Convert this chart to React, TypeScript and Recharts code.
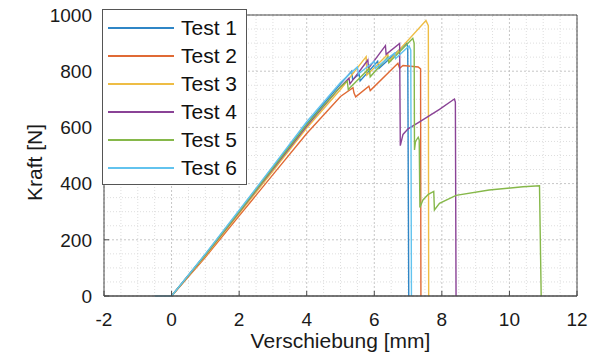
import React from "react";
import {
  LineChart,
  Line,
  XAxis,
  YAxis,
  Legend,
  ReferenceLine,
} from "recharts";

type Pt = [number, number];

// Kraft-Weg Kurven
const test1: Pt[] = [
  [0, 0], [1, 148], [2, 302], [3, 458], [4, 612], [5, 755], [5.33, 800], [5.36, 770],
  [5.55, 790], [5.58, 765], [6.1, 835], [6.14, 810], [6.96, 900], [6.99, 885], [7.02, 0],
];
const test2: Pt[] = [
  [0, 0], [1, 138], [2, 285], [3, 432], [4, 578], [5, 710], [5.37, 741], [5.4, 722],
  [5.45, 709], [5.84, 747], [5.88, 731], [6.7, 828], [6.75, 810], [6.85, 820],
  [7.3, 815], [7.37, 808], [7.38, 0],
];
const test3: Pt[] = [
  [0, 0], [1, 142], [2, 293], [3, 445], [4, 598], [5, 735], [5.76, 852], [5.78, 786],
  [6.4, 860], [6.43, 835], [7.53, 980], [7.6, 962], [7.61, 0],
];
const test4: Pt[] = [
  [0, 0], [1, 146], [2, 298], [3, 452], [4, 605], [5, 745], [5.25, 775], [5.28, 755],
  [5.81, 840], [5.83, 810], [6.33, 891], [6.35, 860], [6.75, 899], [6.77, 535],
  [6.85, 575], [7.0, 595], [7.34, 620], [7.93, 664], [8.37, 701], [8.4, 690], [8.42, 0],
];
const test5: Pt[] = [
  [0, 0], [1, 147], [2, 300], [3, 455], [4, 610], [5, 745], [5.2, 765], [5.23, 735],
  [5.85, 810], [5.88, 780], [6.4, 850], [6.43, 830], [7.14, 917], [7.18, 900],
  [7.19, 520], [7.22, 550], [7.3, 565], [7.33, 555], [7.35, 315], [7.44, 342],
  [7.6, 362], [7.76, 372], [7.78, 306], [7.93, 330], [8.42, 358], [9.4, 377],
  [10.4, 389], [10.89, 392], [10.94, 0],
];
const test6: Pt[] = [
  [-0.5, 0], [0, 0], [1, 150], [2, 305], [3, 462], [4, 620], [5, 760], [5.5, 815],
  [5.53, 790], [6.0, 835], [6.03, 810], [6.6, 865], [6.63, 845], [7.03, 890],
  [7.08, 875], [7.1, 0],
];

const seriesNames = ["Test 1", "Test 2", "Test 3", "Test 4", "Test 5", "Test 6"];
const seriesData = [test1, test2, test3, test4, test5, test6];
const COLORS = ["#2f86c6", "#e06a35", "#eebd45", "#8a4396", "#86b84a", "#62c3ee"];

const xTicks = [-2, 0, 2, 4, 6, 8, 10, 12];
const yTicks = [0, 200, 400, 600, 800, 1000];
// Hilfsgitter alle 0.5 mm / 50 N
const xMinor = Array.from({ length: 29 }, (_, i) => -2 + i * 0.5);
const yMinor = Array.from({ length: 21 }, (_, i) => i * 50);

const FONT = '"Liberation Sans", Arial, sans-serif';
const AXIS = "#4a4a4a";

const LegendBox = ({ payload }: any) => (
  <div
    style={{
      background: "#fff",
      border: "1px solid #555",
      width: 143,
      padding: "4px 0 2px 0",
      fontFamily: FONT,
      fontSize: 21,
      color: "#111",
    }}
  >
    {(payload || []).map((item: any, i: number) => (
      <div key={i} style={{ display: "flex", alignItems: "center", height: 28 }}>
        <div
          style={{
            marginLeft: 5,
            width: 66,
            height: 2,
            background: item.color,
          }}
        />
        <span style={{ marginLeft: 7 }}>{item.value}</span>
      </div>
    ))}
  </div>
);

export default function App() {
  return (
    <div style={{ position: "fixed", left: 0, top: 0, background: "#fff" }}>
      <LineChart
        width={597}
        height={362}
        margin={{ top: 15, right: 20, left: 0, bottom: 0 }}
        style={{ fontFamily: FONT }}
      >
        <XAxis
          xAxisId="main"
          type="number"
          dataKey="x"
          domain={[-2, 12]}
          ticks={xTicks}
          height={66}
          stroke={AXIS}
          tickSize={-5}
          tickMargin={22}
          tick={{ fill: "#1a1a1a", fontSize: 19 }}
          label={{
            value: "Verschiebung [mm]",
            position: "center",
            dy: 12,
            fill: "#1a1a1a",
            fontSize: 21,
          }}
        />
        <YAxis
          yAxisId="main"
          type="number"
          domain={[0, 1000]}
          ticks={yTicks}
          width={104}
          stroke={AXIS}
          tickSize={-5}
          tickMargin={17}
          tick={{ fill: "#1a1a1a", fontSize: 19 }}
          label={{
            value: "Kraft [N]",
            position: "center",
            angle: -90,
            dx: -17,
            dy: 7,
            fill: "#1a1a1a",
            fontSize: 21,
          }}
        />
        <XAxis
          xAxisId="top"
          orientation="top"
          type="number"
          dataKey="x"
          domain={[-2, 12]}
          ticks={xTicks}
          height={0}
          stroke={AXIS}
          tickSize={-5}
          tick={false}
        />
        <YAxis
          yAxisId="right"
          orientation="right"
          type="number"
          domain={[0, 1000]}
          ticks={yTicks}
          width={0}
          stroke={AXIS}
          tickSize={-5}
          tick={false}
        />
        {xMinor.map((v) => (
          <ReferenceLine
            key={`vx${v}`}
            xAxisId="main"
            yAxisId="main"
            x={v}
            stroke={xTicks.includes(v) ? "#c6c6c6" : "#dedede"}
            strokeDasharray={xTicks.includes(v) ? "2 2" : "1 2"}
          />
        ))}
        {yMinor.map((v) => (
          <ReferenceLine
            key={`hy${v}`}
            xAxisId="main"
            yAxisId="main"
            y={v}
            stroke={yTicks.includes(v) ? "#c6c6c6" : "#dedede"}
            strokeDasharray={yTicks.includes(v) ? "2 2" : "1 2"}
          />
        ))}
        {seriesData.map((pts, i) => (
          <Line
            key={seriesNames[i]}
            xAxisId="main"
            yAxisId="main"
            name={seriesNames[i]}
            data={pts.map(([x, y]) => ({ x, y }))}
            dataKey="y"
            type="linear"
            stroke={COLORS[i]}
            strokeWidth={1.4}
            dot={false}
            activeDot={false}
            isAnimationActive={false}
          />
        ))}
        <ReferenceLine xAxisId="main" yAxisId="main" y={1000} stroke={AXIS} />
        <ReferenceLine xAxisId="main" yAxisId="main" x={12} stroke={AXIS} />
        <ReferenceLine xAxisId="main" yAxisId="main" y={0} stroke={AXIS} />
        <Legend
          layout="horizontal"
          verticalAlign="middle"
          align="center"
          content={<LegendBox />}
          wrapperStyle={{ top: 9, left: 102, width: 145 }}
        />
      </LineChart>
    </div>
  );
}
